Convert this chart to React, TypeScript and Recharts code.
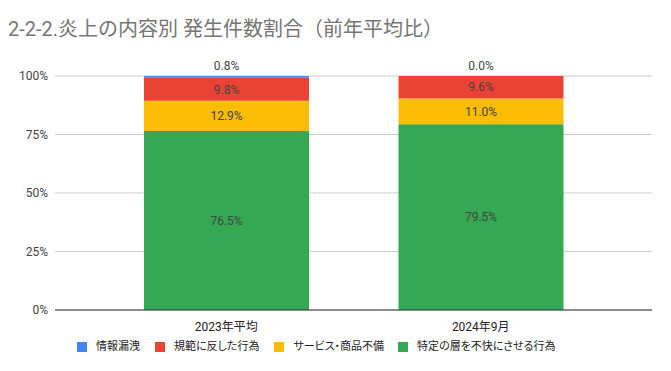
import React from "react";
import { BarChart, Bar, XAxis, YAxis, CartesianGrid, LabelList, Legend } from "recharts";

const categories = ["2023年平均", "2024年9月"];
const seriesNames = ["情報漏洩", "規範に反した行為", "サービス・商品不備", "特定の層を不快にさせる行為"];
const leak = [0.8, 0.0];
const norms = [9.8, 9.6];
const defects = [12.9, 11.0];
const offensive = [76.5, 79.5];
const yTicks = [0, 0.25, 0.5, 0.75, 1];

const colors = ["#4285F4", "#EA4335", "#FBBC04", "#34A853"];
const FONT = "Roboto, 'Liberation Sans', Arial, 'Noto Sans CJK JP', sans-serif";

const data = categories.map((c, i) => ({
  name: c,
  leak: leak[i],
  norms: norms[i],
  defects: defects[i],
  offensive: offensive[i],
}));

const fmt = (v: any) => `${Number(v).toFixed(1)}%`;

// Label for the thin top series (情報漏洩), drawn above the stack top.
const TopLabel = (props: any) => {
  const { x, y, width, height, index } = props;
  const leakH = (Number(height) * leak[index]) / norms[index];
  const top = Number(y) - leakH;
  return (
    <text x={Number(x) + Number(width) / 2} y={top - 6} textAnchor="middle" fontSize={12} fill="#444" fontFamily={FONT}>
      {fmt(leak[index])}
    </text>
  );
};

const LegendContent = () => (
  <div style={{ display: "flex", fontFamily: FONT, fontSize: 11, color: "#222", paddingLeft: 77, lineHeight: "16px" }}>
    {seriesNames.map((n, i) => (
      <div key={n} style={{ display: "flex", alignItems: "center", marginRight: [15, 15, 14, 0][i] }}>
        <span style={{ width: 10, height: 10, background: colors[i], display: "inline-block", marginRight: 9 }} />
        <span style={{ fontFeatureSettings: '"palt"' }}>{n}</span>
      </div>
    ))}
  </div>
);

export default function App() {
  return (
    <div style={{ position: "absolute", left: 0, top: 0, width: 671, height: 371, background: "#fff" }}>
      <div style={{ position: "absolute", left: 8, top: 19, fontFamily: FONT, fontSize: 20, lineHeight: "20px", color: "#757575", whiteSpace: "nowrap" }}>
        2-2-2.炎上の内容別 発生件数割合（前年平均比）
      </div>
      <BarChart
        width={671}
        height={371}
        data={data}
        stackOffset="expand"
        margin={{ top: 76, right: 19, bottom: 15, left: 0 }}
      >
        <CartesianGrid vertical={false} stroke="#cccccc" />
        <XAxis
          dataKey="name"
          padding={{ left: 44, right: 44 }}
          tickLine={false}
          axisLine={{ stroke: "#333" }}
          tick={{ fontSize: 12, fill: "#222", fontFamily: FONT }}
          tickMargin={6}
          height={30}
        />
        <YAxis
          width={55}
          ticks={yTicks}
          domain={[0, 1]}
          tickFormatter={(v: number) => `${Math.round(v * 100)}%`}
          axisLine={false}
          tickLine={false}
          tickSize={0}
          tickMargin={7}
          tick={{ fontSize: 12, fill: "#444", fontFamily: FONT }}
        />
        <Legend
          verticalAlign="bottom"
          content={<LegendContent />}
          wrapperStyle={{ position: "absolute", left: 0, top: 339, width: 671, height: 16 }}
        />
        <Bar dataKey="offensive" stackId="a" fill={colors[3]} barSize={165} isAnimationActive={false} name={seriesNames[3]}>
          <LabelList dataKey="offensive" position="center" formatter={fmt} fontSize={12} fill="#444" fontFamily={FONT} />
        </Bar>
        <Bar dataKey="defects" stackId="a" fill={colors[2]} barSize={165} isAnimationActive={false} name={seriesNames[2]}>
          <LabelList dataKey="defects" position="center" formatter={fmt} fontSize={12} fill="#444" fontFamily={FONT} />
        </Bar>
        <Bar dataKey="norms" stackId="a" fill={colors[1]} barSize={165} isAnimationActive={false} name={seriesNames[1]}>
          <LabelList dataKey="norms" position="center" formatter={fmt} fontSize={12} fill="#444" fontFamily={FONT} />
          <LabelList dataKey="leak" content={<TopLabel />} />
        </Bar>
        <Bar dataKey="leak" stackId="a" fill={colors[0]} barSize={165} isAnimationActive={false} name={seriesNames[0]} />
      </BarChart>
    </div>
  );
}
